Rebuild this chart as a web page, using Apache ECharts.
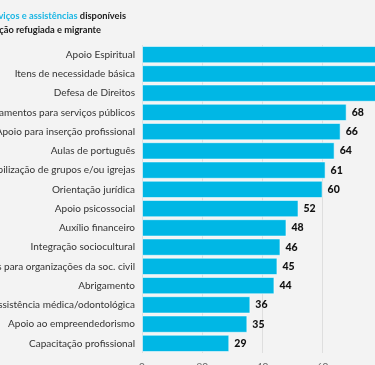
<!DOCTYPE html>
<html><head><meta charset="utf-8">
<script src="https://cdn.jsdelivr.net/npm/echarts@6/dist/echarts.min.js"></script>
<style>html,body{margin:0;padding:0;background:#f3f3f3;}#c{width:375px;height:365px;}</style>
</head><body><div id="c"></div>
<script>
const categories = ["Apoio Espiritual","Itens de necessidade básica","Defesa de Direitos","Encaminhamentos para serviços públicos","Apoio para inserção profissional","Aulas de português","Mobilização de grupos e/ou igrejas","Orientação jurídica","Apoio psicossocial","Auxílio financeiro","Integração sociocultural","Doações para organizações da soc. civil","Abrigamento","Assistência médica/odontológica","Apoio ao empreendedorismo","Capacitação profissional"];
const values = [88,84,79,68,66,64,61,60,52,48,46,45,44,36,35,29];
const titleLine1Blue = "Serviços e assistências";
const titleLine1Rest = " disponíveis";
const titleLine2 = "para a população refugiada e migrante";
const xTicks = [0,20,40,60,80,100];

const chart = echarts.init(document.getElementById('c'), null, {renderer:'canvas'});
chart.setOption({
  backgroundColor:'#f3f3f3',
  animation:false,
  textStyle:{fontFamily:'Lato'},
  graphic:[
    {type:'text', right: 375-126, top: 11, style:{
      text:'{b|'+titleLine1Blue+'}{d|'+titleLine1Rest+'}',
      rich:{b:{fill:'#19b6e4',fontFamily:'Lato',fontSize:9.3,fontWeight:'bold'},d:{fill:'#1a1a1a',fontFamily:'Lato',fontSize:9.3,fontWeight:'bold'}}
    }},
    {type:'text', right: 375-101, top: 25, style:{
      text:titleLine2, fill:'#1a1a1a', fontFamily:'Lato', fontSize:9.3, fontWeight:'bold'
    }}
  ],
  grid:{left:142, top:45, height:308, width:301, containLabel:false, outerBoundsMode:'none'},
  xAxis:{type:'value', min:xTicks[0], max:xTicks[xTicks.length-1], interval:20,
    axisLine:{show:false}, axisTick:{show:false},
    splitLine:{show:true, lineStyle:{color:'#dedede', width:1}},
    axisLabel:{color:'#666', fontSize:10, margin:9, fontFamily:'Lato'}},
  yAxis:{type:'category', data:categories, inverse:true,
    axisLine:{show:false}, axisTick:{show:false},
    axisLabel:{color:'#333', fontSize:10, margin:7, fontFamily:'Lato'}},
  series:[{type:'bar', data:values, barCategoryGap:'10%',
    itemStyle:{color:'#00b7e5', borderColor:'rgba(255,255,255,0.55)', borderWidth:1},
    label:{show:true, position:'right', distance:5, color:'#111', fontWeight:900, fontSize:10.5, fontFamily:'Lato'}
  }]
});
</script></body></html>
